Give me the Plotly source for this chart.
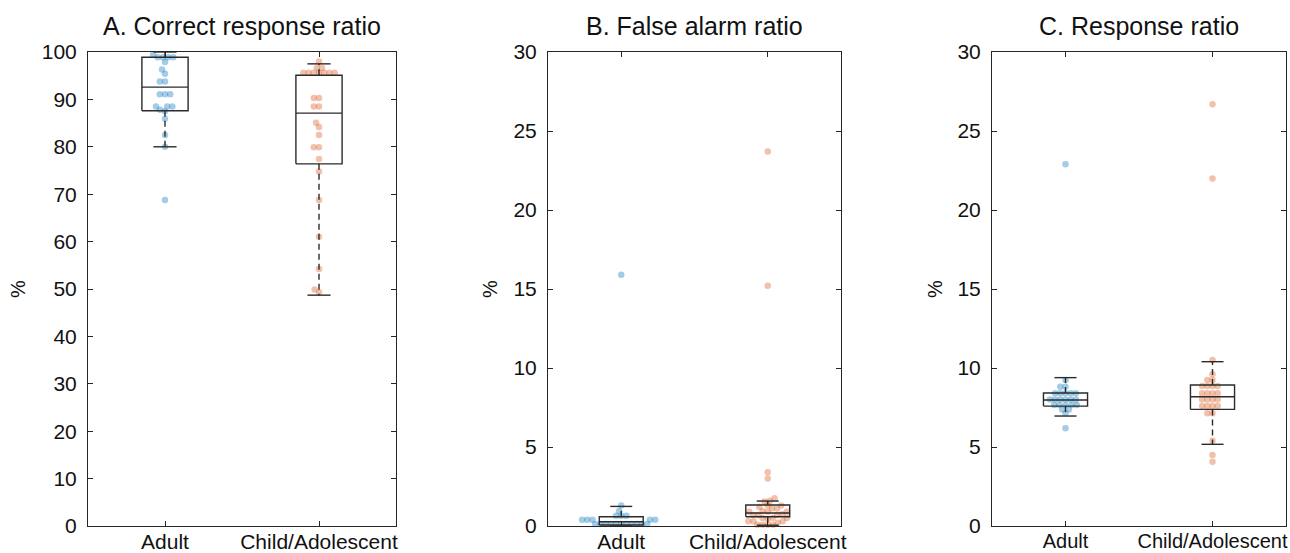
import numpy as np
import plotly.graph_objects as go

# ---------------- data ----------------
categories = ["Adult", "Child/Adolescent"]
panel_titles = ["A. Correct response ratio", "B. False alarm ratio", "C. Response ratio"]
y_max = [100, 30, 30]
y_step = [10, 5, 5]

# A. Correct response ratio (%)
adult_correct = [99.4, 98.9, 98.9, 98.9, 98.9, 97.9, 96.3, 95.4, 93.8, 93.8, 91.1, 91.1,
                 91.1, 88.5, 88.5, 88.5, 87.8, 87.5, 85.9, 82.5, 80.0, 68.8]
child_correct = [98.0, 96.6, 96.6, 95.6, 95.6, 95.6, 95.6, 95.6, 95.6, 95.6, 90.3, 90.3,
                 88.5, 88.5, 85.1, 84.2, 82.5, 79.9, 79.9, 77.4, 74.8, 68.8, 61.0, 54.2,
                 49.9, 49.3]
# B. False alarm ratio (%)
adult_false = [0.12, 0.12, 0.12, 0.12, 0.12, 0.12, 0.12, 0.12, 0.12, 0.12, 0.12,
               0.4, 0.4, 0.4, 0.4, 0.4, 0.65, 0.65, 0.65, 0.95, 1.3, 15.9]
child_false = [0.08, 0.08, 0.08, 0.08, 0.2, 0.3, 0.3, 0.3, 0.45, 0.5, 0.5, 0.5,
               0.7, 0.7, 0.7, 0.75, 0.9, 0.9, 0.9, 0.95, 1.1, 1.1, 1.2, 1.3, 1.3, 1.55,
               1.6, 1.75, 3.0, 3.4, 15.2, 23.7]
# C. Response ratio (%)
adult_resp = [9.24, 8.82, 8.82, 8.4, 8.4, 8.4, 8.4, 8.4, 8.0, 8.0, 8.0, 8.0, 8.0, 8.0,
              7.66, 7.66, 7.66, 7.66, 7.66, 7.38, 7.38, 7.13, 6.18, 22.9]
child_resp = [26.7, 22.0, 10.5, 9.6, 9.24, 9.24, 8.86, 8.86, 8.86, 8.86, 8.4, 8.4, 8.4, 8.4,
              8.0, 8.0, 8.0, 8.0, 7.6, 7.6, 7.6, 7.6, 7.13, 7.13, 5.4, 4.49, 4.07]

# box statistics: [lower whisker, Q1, median, Q3, upper whisker]
box_adult_correct = [80.0, 87.6, 92.6, 98.9, 100.0]
box_child_correct = [48.7, 76.4, 87.1, 95.1, 97.5]
box_adult_false = [0.0, 0.06, 0.27, 0.59, 1.24]
box_child_false = [0.05, 0.59, 0.82, 1.33, 1.58]
box_adult_resp = [6.96, 7.59, 7.97, 8.42, 9.39]
box_child_resp = [5.17, 7.38, 8.18, 8.92, 10.4]

# ---------------- layout constants ----------------
W, H = 1290, 553
x_dom_px = [(88, 396), (548, 841), (992, 1286)]
y_dom_px = (52, 526)
ylabel_x_px = [18, 490, 935]
xtick_size = [21, 21, 20]
FONT = "Liberation Sans, Arial, sans-serif"
AX = "#262626"
BOXC = "#2b2b2b"
COLORS = ["rgba(0,114,189,0.36)", "rgba(217,83,25,0.36)"]

panels = [
    ((adult_correct, child_correct), (box_adult_correct, box_child_correct)),
    ((adult_false, child_false), (box_adult_false, box_child_false)),
    ((adult_resp, child_resp), (box_adult_resp, box_child_resp)),
]


def swarm(values, ypx, xpx, sep=5.2):
    vals = np.asarray(values, dtype=float)
    order = np.argsort(vals, kind="stable")
    placed = []
    offs = np.zeros(len(vals))
    for i in order:
        y = vals[i] * ypx
        cands = [0.0]
        for (px, py) in placed:
            dy = abs(py - y)
            if dy < sep:
                dx = np.sqrt(sep ** 2 - dy ** 2)
                cands += [px + dx, px - dx]
        cands.sort(key=lambda c: (round(abs(c), 6), c))
        chosen = cands[-1]
        for c in cands:
            if all((c - px) ** 2 + (y - py) ** 2 >= sep ** 2 - 1e-6 for px, py in placed):
                chosen = c
                break
        placed.append((chosen, y))
        offs[i] = chosen / xpx
    return offs


fig = go.Figure()
y0 = 1 - y_dom_px[1] / H
y1 = 1 - y_dom_px[0] / H
BW = 0.15   # box half width (category units)
CW = 0.075  # cap half width

for p, ((g1, g2), (s1, s2)) in enumerate(panels):
    xa = "x" if p == 0 else f"x{p + 1}"
    ya = "y" if p == 0 else f"y{p + 1}"
    xpx_per = (x_dom_px[p][1] - x_dom_px[p][0]) / 2.0
    ypx_per = (y_dom_px[1] - y_dom_px[0]) / y_max[p]
    for gi, (vals, st) in enumerate([(g1, s1), (g2, s2)]):
        c = gi + 1
        offs = swarm(vals, ypx_per, xpx_per)
        fig.add_trace(go.Scatter(
            x=c + offs, y=vals, mode="markers", xaxis=xa, yaxis=ya,
            marker=dict(size=6.5, color=COLORS[gi], line=dict(width=0)),
            cliponaxis=False, showlegend=False, hoverinfo="y"))
        lo, q1, med, q3, hi = st
        # box outline
        fig.add_trace(go.Scatter(
            x=[c - BW, c + BW, c + BW, c - BW, c - BW], y=[q1, q1, q3, q3, q1],
            mode="lines", line=dict(color=BOXC, width=1.4), xaxis=xa, yaxis=ya,
            showlegend=False, hoverinfo="skip", cliponaxis=False))
        # median
        fig.add_trace(go.Scatter(
            x=[c - BW, c + BW], y=[med, med], mode="lines",
            line=dict(color=BOXC, width=1.4), xaxis=xa, yaxis=ya,
            showlegend=False, hoverinfo="skip"))
        # whiskers (dashed)
        fig.add_trace(go.Scatter(
            x=[c, c, None, c, c], y=[q3, hi, None, q1, lo], mode="lines",
            line=dict(color=BOXC, width=1.4, dash="6px,4px"), xaxis=xa, yaxis=ya,
            showlegend=False, hoverinfo="skip", cliponaxis=False))
        # caps
        fig.add_trace(go.Scatter(
            x=[c - CW, c + CW, None, c - CW, c + CW], y=[hi, hi, None, lo, lo],
            mode="lines", line=dict(color=BOXC, width=1.4), xaxis=xa, yaxis=ya,
            showlegend=False, hoverinfo="skip", cliponaxis=False))

axis_common = dict(showline=True, linecolor=AX, linewidth=1, mirror="ticks",
                   ticks="inside", ticklen=5, tickcolor=AX, tickwidth=1,
                   showgrid=False, zeroline=False, automargin=False)

layout = dict(width=W, height=H, margin=dict(l=0, r=0, t=0, b=0, pad=0),
              paper_bgcolor="white", plot_bgcolor="white", showlegend=False)
annotations = []
for p in range(3):
    xs = "xaxis" if p == 0 else f"xaxis{p + 1}"
    ys = "yaxis" if p == 0 else f"yaxis{p + 1}"
    ya = "y" if p == 0 else f"y{p + 1}"
    xa = "x" if p == 0 else f"x{p + 1}"
    xd = [x_dom_px[p][0] / W, x_dom_px[p][1] / W]
    layout[xs] = dict(domain=xd, range=[0.5, 2.5], tickvals=[1, 2], ticktext=categories,
                      anchor=ya, fixedrange=True, ticklabelstandoff=-3,
                      tickfont=dict(family=FONT, size=xtick_size[p], color="#111111"),
                      **axis_common)
    layout[ys] = dict(domain=[y0, y1], range=[0, y_max[p]],
                      tickvals=list(range(0, y_max[p] + 1, y_step[p])),
                      anchor=xa, fixedrange=True, ticklabelstandoff=6,
                      tickfont=dict(family=FONT, size=21, color="#111111"),
                      **axis_common)
    annotations.append(dict(text=panel_titles[p], xref="paper", yref="paper",
                            x=sum(xd) / 2, y=1 - 26 / H, xanchor="center", yanchor="middle",
                            showarrow=False, font=dict(family=FONT, size=25, color="#111111")))
    annotations.append(dict(text="%", xref="paper", yref="paper",
                            x=ylabel_x_px[p] / W, y=(y0 + y1) / 2, xanchor="center",
                            yanchor="middle", textangle=-90, showarrow=False,
                            font=dict(family=FONT, size=20, color="#111111")))
layout["annotations"] = annotations
fig.update_layout(**layout)
fig.write_html("out.html", config={"displayModeBar": False},
               post_script="document.body.style.margin='0';"
                           "document.body.style.overflow='hidden';")
